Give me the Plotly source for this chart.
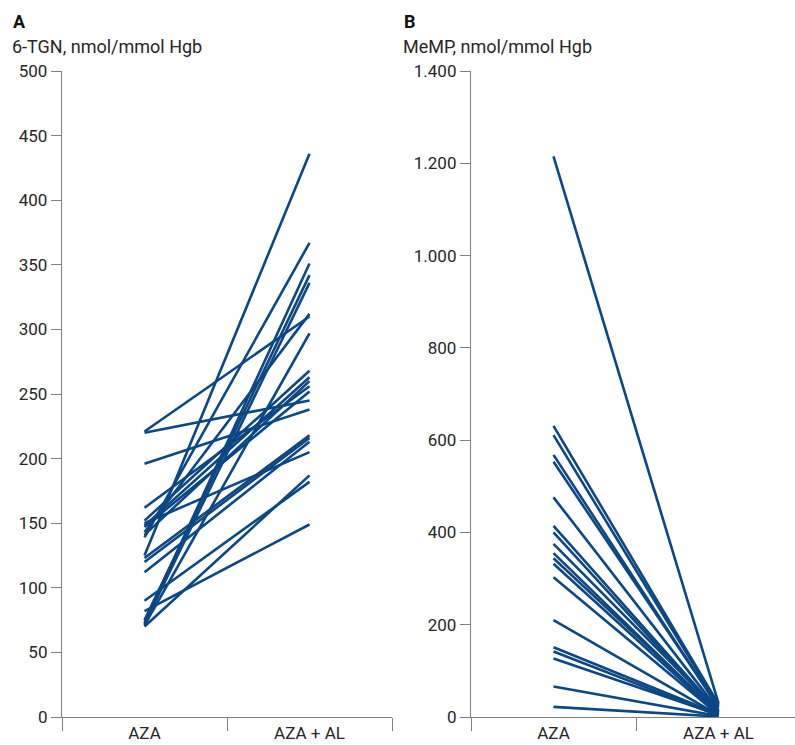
import plotly.graph_objects as go

W, H = 795, 745

categories = ["AZA", "AZA + AL"]

# Panel A: 6-TGN (nmol/mmol Hgb), paired values
tgn_aza = [221, 220, 196, 162, 152, 150, 148, 147, 143, 141, 139,
           125, 123, 120, 112, 90, 82, 75, 73, 72, 71, 70]
tgn_aza_al = [310, 245, 238, 256, 268, 205, 263, 252, 312, 260, 367,
              436, 218, 216, 213, 182, 149, 342, 351, 336, 297, 187]

# Panel B: MeMP (nmol/mmol Hgb), paired values
memp_aza = [1215, 631, 611, 568, 553, 476, 414, 400, 375, 355, 344,
            332, 303, 210, 151, 142, 127, 66, 22]
memp_aza_al = [30, 28, 25, 20, 22, 15, 12, 10, 14, 8, 10,
               6, 5, 4, 6, 3, 5, 2, 1]

a_ticks = [0, 50, 100, 150, 200, 250, 300, 350, 400, 450, 500]
b_ticks = [0, 200, 400, 600, 800, 1000, 1200, 1400]
b_ticktext = ["0", "200", "400", "600", "800", "1.000", "1.200", "1.400"]

LINE = "#0b4785"
AXIS = "#808080"
TEXT = "#262626"
FONT = "Roboto, sans-serif"

fig = go.Figure()
for a, b in zip(tgn_aza, tgn_aza_al):
    fig.add_trace(go.Scatter(x=categories, y=[a, b], mode="lines",
                             line=dict(color=LINE, width=2.6),
                             xaxis="x", yaxis="y", showlegend=False,
                             hoverinfo="skip"))
for a, b in zip(memp_aza, memp_aza_al):
    fig.add_trace(go.Scatter(x=categories, y=[a, b], mode="lines",
                             line=dict(color=LINE, width=2.6),
                             xaxis="x2", yaxis="y2", showlegend=False,
                             hoverinfo="skip"))

def px_x(p):
    return p / W

def px_y(p):
    return 1 - p / H

ydom = [px_y(717), px_y(71)]

xcommon = dict(type="category", showline=True, linecolor=AXIS, linewidth=1.3,
               ticks="outside", tickson="boundaries", ticklen=13,
               tickcolor=AXIS, tickwidth=1.3, showgrid=False, zeroline=False,
               automargin=False,
               tickfont=dict(family=FONT, size=17, color=TEXT))
ycommon = dict(showline=True, linecolor=AXIS, linewidth=1.3,
               ticks="outside", ticklen=10, tickcolor=AXIS, tickwidth=1.3,
               showgrid=False, zeroline=False, automargin=False,
               tickfont=dict(family=FONT, size=17, color=TEXT))

fig.update_layout(
    width=W, height=H,
    margin=dict(l=0, r=0, t=0, b=0, autoexpand=False),
    paper_bgcolor="white", plot_bgcolor="white",
    font=dict(family=FONT, color=TEXT),
    xaxis=dict(domain=[px_x(62), px_x(392)], range=[-0.5, 1.5],
               anchor="y", **xcommon),
    yaxis=dict(domain=ydom, range=[0, 500], tickvals=a_ticks,
               anchor="x", **ycommon),
    xaxis2=dict(domain=[px_x(471), 1.0], range=[-0.5, 1.5 - 6 / 165],
                anchor="y2", **xcommon),
    yaxis2=dict(domain=ydom, range=[0, 1400], tickvals=b_ticks,
                ticktext=b_ticktext, anchor="x2", **ycommon),
    annotations=[
        dict(text="<b>A</b>", x=px_x(11), y=px_y(21), xref="paper", yref="paper",
             xanchor="left", yanchor="middle", showarrow=False,
             font=dict(family=FONT, size=18, color="#111")),
        dict(text="6-TGN, nmol/mmol Hgb", x=px_x(10), y=px_y(46), xref="paper",
             yref="paper", xanchor="left", yanchor="middle", showarrow=False,
             font=dict(family=FONT, size=18, color=TEXT)),
        dict(text="<b>B</b>", x=px_x(402), y=px_y(21), xref="paper", yref="paper",
             xanchor="left", yanchor="middle", showarrow=False,
             font=dict(family=FONT, size=18, color="#111")),
        dict(text="MeMP, nmol/mmol Hgb", x=px_x(401), y=px_y(46), xref="paper",
             yref="paper", xanchor="left", yanchor="middle", showarrow=False,
             font=dict(family=FONT, size=18, color=TEXT)),
    ],
)

fig.write_html("out.html",
               config={"displayModeBar": False},
               post_script="document.body.style.margin='0';document.body.style.overflow='hidden';")
